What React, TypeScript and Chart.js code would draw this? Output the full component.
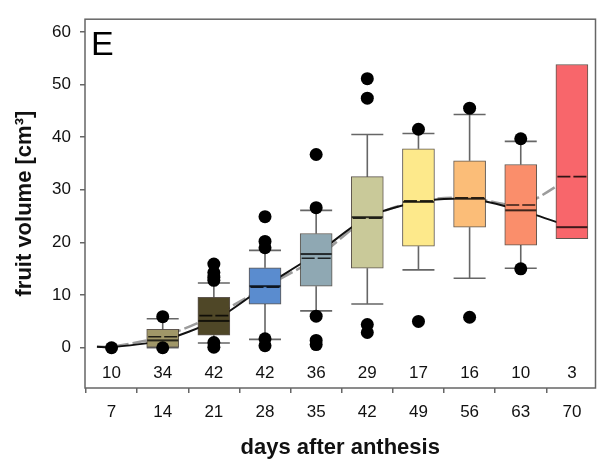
import React, { useEffect, useRef } from "react";
import { Chart, registerables } from "chart.js";
Chart.register(...registerables);

const days = [7, 14, 21, 28, 35, 42, 49, 56, 63, 70];
const counts = [10, 34, 42, 42, 36, 29, 17, 16, 10, 3];
const q1 = [null, 0.1, 2.4, 8.3, 11.7, 15.1, 19.3, 22.9, 19.5, 20.7];
const q3 = [null, 3.5, 9.6, 15.2, 21.7, 32.5, 37.8, 35.5, 34.8, 53.8];
const medians = [0.1, 1.4, 5.1, 11.7, 17.8, 24.8, 27.7, 28.3, 26.1, 22.9];
const means = [0.2, 2.1, 6.1, 11.5, 17.0, 24.6, 27.9, 28.5, 27.1, 32.5];
const whiskerLow = [null, 0, 0.9, 1.6, 7.0, 8.3, 14.8, 13.2, 15.1, null];
const whiskerHigh = [null, 5.5, 12.3, 18.5, 26.1, 40.5, 40.7, 44.3, 39.2, null];
const outliers: number[][] = [
  [0],
  [5.9, 0],
  [15.9, 14.3, 13.4, 12.8, 1.0, 0.1],
  [24.9, 20.2, 19.0, 1.7, 0.4],
  [36.7, 26.6, 6.0, 1.4, 0.6],
  [51.1, 47.4, 4.4, 2.9],
  [41.5, 5.0],
  [45.5, 5.8],
  [39.7, 15.0],
  [],
];
const boxColors = [
  "#a9a9a9",
  "#a09768",
  "#4f4727",
  "#5a8ccf",
  "#8fa8b3",
  "#c9c999",
  "#fde98b",
  "#fbbd78",
  "#fa8e6b",
  "#f8666b",
];
const trendStart = { day: 5, median: 0.2, mean: 0.2 };
const yTicks = [0, 10, 20, 30, 40, 50, 60];
const countLabelY = -4.9;
const panelLetter = "E";

const FONT = "'Liberation Sans', Arial, sans-serif";
const BOX_W = 32;
const BOX_INDEX = 2;

const boxPartsPlugin = {
  id: "boxParts",
  beforeDatasetsDraw(chart: any) {
    const { ctx, chartArea, scales } = chart;
    const x = scales.x;
    const y = scales.y;
    ctx.save();
    ctx.strokeStyle = "#666";
    ctx.lineWidth = 1.5;
    ctx.strokeRect(
      chartArea.left,
      chartArea.top,
      chartArea.right - chartArea.left,
      chartArea.bottom - chartArea.top
    );
    // whiskers
    ctx.strokeStyle = "#666";
    ctx.lineWidth = 1.6;
    days.forEach((d, i) => {
      const lo = whiskerLow[i];
      const hi = whiskerHigh[i];
      const px = x.getPixelForValue(d);
      if (hi != null && q3[i] != null) {
        const py = y.getPixelForValue(hi);
        ctx.beginPath();
        ctx.moveTo(px, y.getPixelForValue(q3[i] as number));
        ctx.lineTo(px, py);
        ctx.moveTo(px - BOX_W / 2, py);
        ctx.lineTo(px + BOX_W / 2, py);
        ctx.stroke();
      }
      if (lo != null && q1[i] != null) {
        const py = y.getPixelForValue(lo);
        ctx.beginPath();
        ctx.moveTo(px, y.getPixelForValue(q1[i] as number));
        ctx.lineTo(px, py);
        ctx.moveTo(px - BOX_W / 2, py);
        ctx.lineTo(px + BOX_W / 2, py);
        ctx.stroke();
      }
    });
    ctx.restore();
  },
  afterDatasetDraw(chart: any, args: any) {
    if (args.index !== BOX_INDEX) return;
    const { ctx, scales } = chart;
    const x = scales.x;
    const y = scales.y;
    ctx.save();
    days.forEach((d, i) => {
      if (q1[i] == null) return;
      const px = x.getPixelForValue(d);
      const l = px - BOX_W / 2 + 0.5;
      const r = px + BOX_W / 2 - 0.5;
      // median
      ctx.setLineDash([]);
      ctx.strokeStyle = "rgba(0,0,0,0.75)";
      ctx.lineWidth = 2;
      const my = y.getPixelForValue(medians[i]);
      ctx.beginPath();
      ctx.moveTo(l, my);
      ctx.lineTo(r, my);
      ctx.stroke();
      // mean (dashed)
      ctx.setLineDash([13, 3]);
      ctx.lineDashOffset = -1;
      ctx.lineWidth = 1.6;
      ctx.strokeStyle = "rgba(0,0,0,0.8)";
      const ay = y.getPixelForValue(means[i]);
      ctx.beginPath();
      ctx.moveTo(l, ay);
      ctx.lineTo(r, ay);
      ctx.stroke();
    });
    ctx.restore();
  },
  afterDraw(chart: any) {
    const { ctx, chartArea, scales } = chart;
    const x = scales.x;
    const y = scales.y;
    ctx.save();
    ctx.fillStyle = "#111";
    ctx.font = `17px ${FONT}`;
    ctx.textAlign = "center";
    ctx.textBaseline = "middle";
    days.forEach((d, i) => {
      ctx.fillText(String(counts[i]), x.getPixelForValue(d), y.getPixelForValue(countLabelY));
    });
    ctx.font = `34px ${FONT}`;
    ctx.textAlign = "left";
    ctx.textBaseline = "alphabetic";
    ctx.fillStyle = "#000";
    ctx.fillText(panelLetter, chartArea.left + 6, chartArea.top + 36);
    ctx.restore();
  },
};

export default function App() {
  const ref = useRef<HTMLCanvasElement | null>(null);
  useEffect(() => {
    if (!ref.current) return;
    const outlierPoints: { x: number; y: number }[] = [];
    days.forEach((d, i) => outliers[i].forEach((v) => outlierPoints.push({ x: d, y: v })));
    const boxData = days
      .map((d, i) => (q1[i] == null ? null : { x: d, y: [q1[i], q3[i]] }))
      .filter((v) => v !== null);
    const boxBg = days.map((d, i) => boxColors[i]).filter((c, i) => q1[i] != null);

    const chart = new Chart(ref.current, {
      data: {
        datasets: [
          {
            type: "line",
            label: "median trend",
            data: [{ x: trendStart.day, y: trendStart.median }, ...days.map((d, i) => ({ x: d, y: medians[i] }))],
            borderColor: "#111",
            borderWidth: 2,
            pointRadius: 0,
            tension: 0.25,
            order: 3,
          },
          {
            type: "line",
            label: "mean trend",
            data: [{ x: trendStart.day, y: trendStart.mean }, ...days.map((d, i) => ({ x: d, y: means[i] }))],
            borderColor: "#9c9c9c",
            borderWidth: 2.5,
            borderDash: [14, 4],
            pointRadius: 0,
            tension: 0.25,
            order: 4,
          },
          {
            type: "bar",
            label: "boxes",
            data: boxData as any,
            backgroundColor: boxBg,
            borderColor: "rgba(40,30,20,0.75)",
            borderWidth: 1,
            borderSkipped: false,
            barThickness: BOX_W,
            order: 2,
          },
          {
            type: "scatter",
            label: "outliers",
            data: outlierPoints,
            backgroundColor: "#000",
            borderColor: "#000",
            pointRadius: 6.5,
            borderWidth: 0,
            order: 1,
          },
        ],
      } as any,
      options: {
        animation: false,
        responsive: false,
        layout: { padding: { left: 0, top: 12, right: -2, bottom: 0 } },
        plugins: { legend: { display: false }, tooltip: { enabled: false } },
        scales: {
          x: {
            type: "linear",
            min: 3.365,
            max: 73.23,
            offset: false,
            afterBuildTicks: (s: any) => {
              s.ticks = days.map((v) => ({ value: v }));
            },
            afterFit: (s: any) => {
              s.height = 74;
            },
            grid: { drawOnChartArea: false, drawTicks: true, tickLength: 5, color: "#666", lineWidth: 1.5 },
            border: { display: false },
            ticks: {
              padding: 9,
              color: "#111",
              font: { family: FONT, size: 17 },
              maxRotation: 0,
              autoSkip: false,
            },
            title: {
              display: true,
              text: "days after anthesis",
              color: "#111",
              font: { family: FONT, size: 22, weight: "bold" },
              padding: { top: 0, bottom: 1 },
            },
          },
          y: {
            type: "linear",
            min: -7.64,
            max: 62.4,
            afterBuildTicks: (s: any) => {
              s.ticks = yTicks.map((v) => ({ value: v }));
            },
            afterFit: (s: any) => {
              s.width = 85;
            },
            grid: { drawOnChartArea: false, drawTicks: true, tickLength: 5, color: "#666", lineWidth: 1.5 },
            border: { display: false },
            ticks: {
              padding: 9,
              color: "#111",
              font: { family: FONT, size: 17 },
            },
            title: {
              display: true,
              text: "fruit volume [cm³]",
              color: "#111",
              font: { family: FONT, size: 22, weight: "bold" },
              padding: { top: 12, bottom: 0 },
            },
          },
        },
      } as any,
      plugins: [boxPartsPlugin],
    });
    return () => chart.destroy();
  }, []);
  return (
    <div style={{ position: "fixed", left: 0, top: 0, width: 602, height: 462, background: "#fff" }}>
      <canvas ref={ref} width={602} height={462} style={{ display: "block" }} />
    </div>
  );
}
